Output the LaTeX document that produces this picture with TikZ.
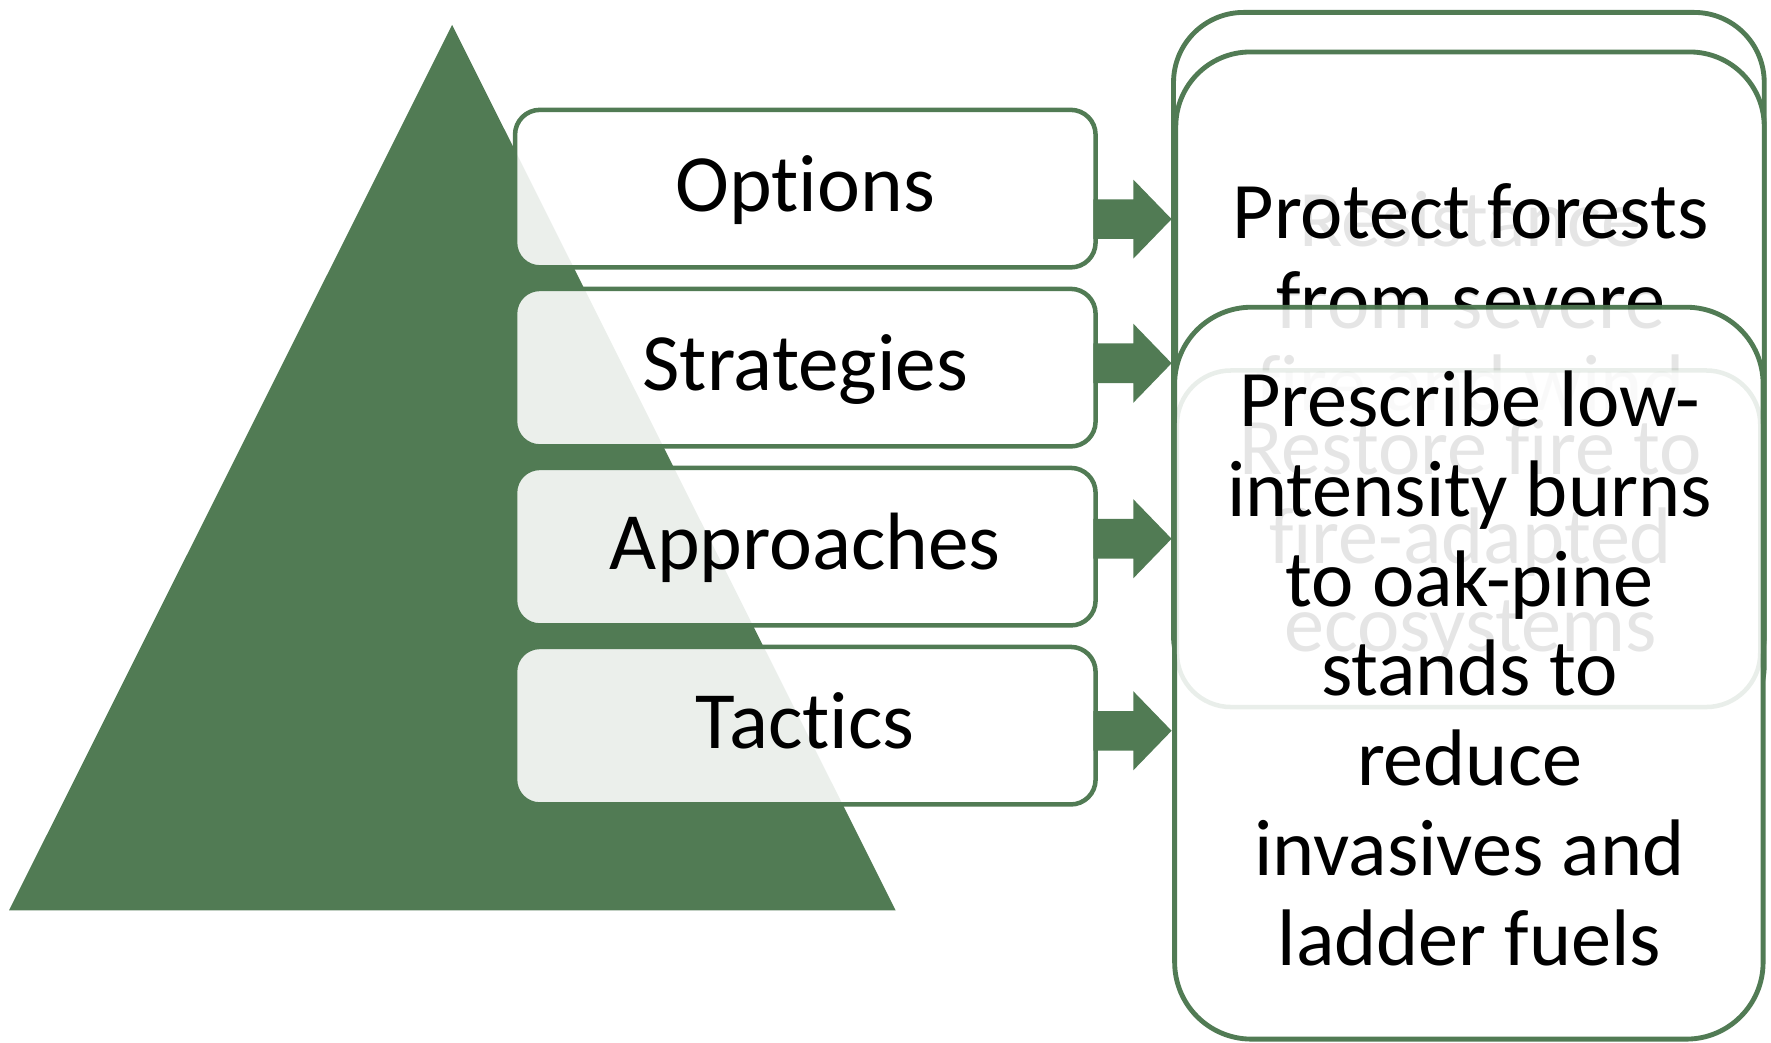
\documentclass[tikz,border=0pt]{standalone}
\usepackage{fontspec}
\setmainfont{Carlito}[Ligatures=NoCommon]
\definecolor{tgreen}{RGB}{81,123,84}
\begin{document}
\begin{tikzpicture}[x=1pt,y=-1pt,
  lbox/.style={shape=rectangle, draw=tgreen, line width=4pt, fill=white, fill opacity=0.885, draw opacity=1, rounded corners=22pt, minimum width=514pt, minimum height=139.5pt, inner sep=0pt},
  rbox/.style={shape=rectangle, draw=tgreen, line width=4.3pt, fill=white, inner sep=0pt},
  fbox/.style={shape=rectangle, draw=tgreen, draw opacity=0.12, line width=4pt, fill=white, fill opacity=0.8, inner sep=0pt},
  ltext/.style={font=\fontsize{72}{80}\selectfont, inner sep=0pt, anchor=base, text=black},
  rtext/.style={font=\fontsize{71}{79}\selectfont, inner sep=0pt, anchor=base, text=black},
  ftext/.style={rtext, text opacity=0.1},
  arrowshape/.style={fill=tgreen}
]
\useasboundingbox (0,0) rectangle (1568,923.4);

% pyramid
\fill[tgreen] (400.3,22.1) -- (793,806) -- (8,806) -- cycle;

% left boxes
\node[lbox] (opt) at (713,167) {};
\node[lbox] (str) at (713,325.5) {};
\node[lbox] (app) at (713,484) {};
\node[lbox] (tac) at (713,642.5) {};
\node[ltext] (optt) at (713,187.4) {Options};
\node[ltext] (strt) at (713,345.8) {Strategies};
\node[ltext] (appt) at (713,504.2) {Approaches};
\node[ltext] (tact) at (713,662.6) {Tactics};

% block arrows
\foreach \cy in {194,321.6,477,647}{
  \fill[arrowshape] (968,{\cy-17.5}) -- (1003.4,{\cy-17.5}) -- (1003.4,{\cy-35}) -- (1037.3,\cy)
    -- (1003.4,{\cy+35}) -- (1003.4,{\cy+17.5}) -- (968,{\cy+17.5}) -- cycle;
}

% right stacked boxes
\node[rbox, rounded corners=62pt, minimum width=523pt, minimum height=614pt] (boxA) at (1300.5,318) {};
\node[rbox, rounded corners=66pt, minimum width=521pt, minimum height=609pt] (boxB) at (1301.5,350.5) {};
\node[rtext] (pf1) at (1302,211) {Protect forests};
\node[rtext] (pf2) at (1302,289) {from severe};

\node[rbox, rounded corners=68pt, minimum width=521pt, minimum height=648pt] (presc) at (1300.5,596) {};

% faded text
\node[ftext] (rs1) at (1302,218.4) {Resistance};
\node[ftext] (rs2) at (1302,290.7) {from severe};
\node[ftext] (rs3) at (1302,363) {fire and wind};

\node[fbox, rounded corners=48pt, minimum width=516.5pt, minimum height=298pt] (restore) at (1300.25,477) {};
\node[ftext] (rf1) at (1302,420.5) {Restore fire to};
\node[ftext] (rf2) at (1302,498.8) {fire-adapted};
\node[ftext] (rf3) at (1302,577) {ecosystems};

% front text
\node[rtext] (p1) at (1301,378) {Prescribe low-};
\node[rtext] (p2) at (1301,457.4) {intensity burns};
\node[rtext] (p3) at (1301,536.8) {to oak-pine};
\node[rtext] (p4) at (1301,616.2) {stands to};
\node[rtext] (p5) at (1301,695.6) {reduce};
\node[rtext] (p6) at (1301,775) {invasives and};
\node[rtext] (p7) at (1301,854.4) {ladder fuels};
\end{tikzpicture}
\end{document}
